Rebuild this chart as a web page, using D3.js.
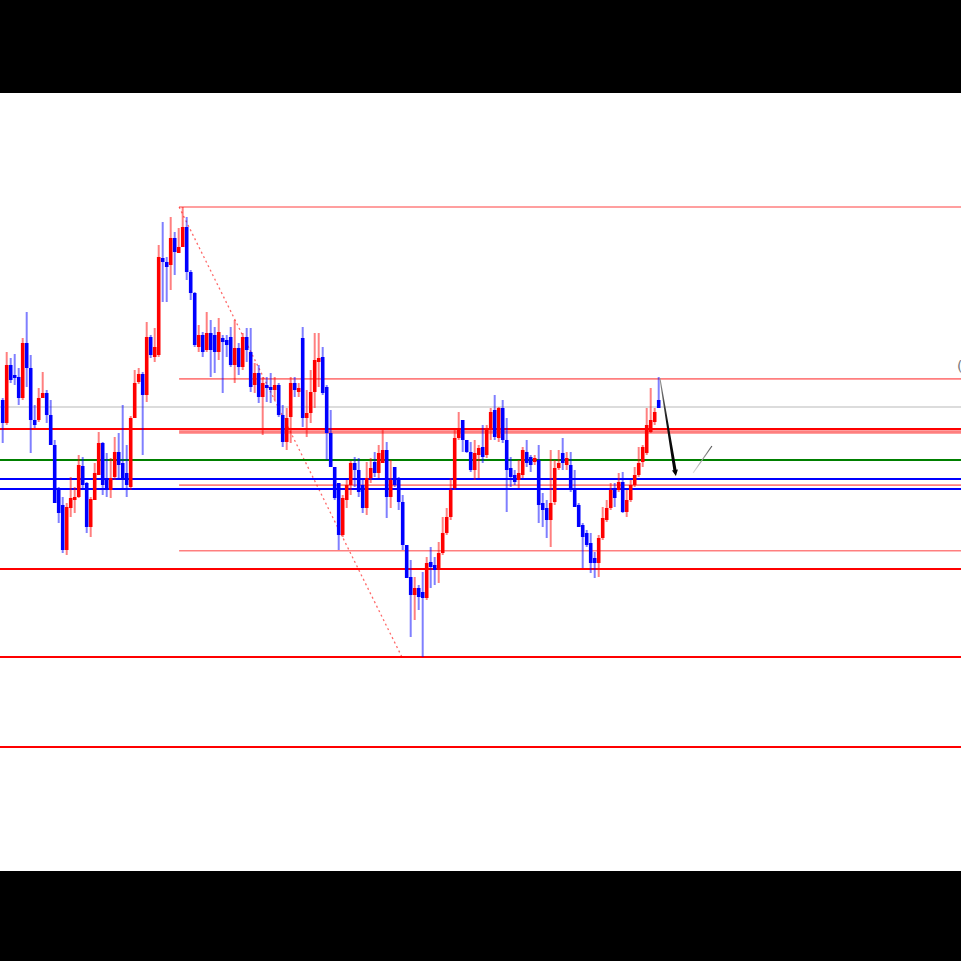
<!DOCTYPE html>
<html>
<head>
<meta charset="utf-8">
<script src="https://cdn.jsdelivr.net/npm/d3@7"></script>
<style>
html,body{margin:0;padding:0;background:#000;}
svg{display:block;}
</style>
</head>
<body>
<script>
// ---- data (price units) ----
const open = [600,577,635,625,623,602,657,632,580,580,602,607,585,555,510,495,450,492,500,503,534,517,473,500,525,557,522,510,523,548,537,527,513,582,618,626,605,663,643,645,742,738,735,762,747,753,773,728,707,653,665,650,667,665,648,662,660,663,635,652,633,663,648,615,627,603,615,613,610,615,585,558,583,617,608,662,582,587,608,638,643,613,567,533,517,465,500,515,537,530,515,492,522,538,527,537,550,503,533,520,498,455,423,405,412,408,402,438,435,430,447,467,483,512,562,580,560,548,530,545,553,545,570,590,562,592,560,532,525,520,525,548,543,538,540,497,492,480,498,532,547,535,535,510,495,475,467,457,442,437,462,480,492,510,510,518,488,500,515,525,538,547,568,578,600];
const high = [602,648,642,646,632,662,688,645,595,612,628,610,600,560,513,503,497,523,513,545,543,518,503,537,568,558,547,542,563,567,595,555,584,630,632,628,678,665,672,755,778,743,783,768,772,793,783,730,708,675,668,688,680,673,682,665,665,673,680,657,667,672,672,637,635,623,623,627,623,617,595,592,623,623,617,673,610,630,667,667,653,615,590,533,517,505,520,539,543,542,522,538,542,548,555,570,558,540,533,523,505,455,440,423,415,428,443,453,443,458,483,492,522,570,588,580,560,558,560,555,575,575,592,605,593,600,582,543,530,540,553,560,545,545,555,507,500,550,540,550,562,548,548,530,497,477,470,467,448,465,493,500,517,517,527,528,510,520,533,553,555,592,612,592,623];
const low = [557,575,617,615,595,600,613,547,572,578,602,577,555,497,477,447,445,483,487,502,512,467,463,500,525,505,503,502,520,520,512,503,510,582,616,545,598,642,638,643,698,698,710,725,747,753,720,700,653,648,643,648,623,627,640,607,643,633,617,625,630,638,608,607,597,565,598,597,600,583,553,550,557,603,603,573,563,577,592,613,605,540,533,500,450,463,492,505,513,503,487,485,517,523,522,537,482,492,513,490,450,422,363,380,390,343,400,412,415,417,445,465,480,510,560,548,547,528,520,522,537,542,560,560,558,557,488,513,515,512,522,533,528,535,477,473,462,453,495,530,530,530,508,493,473,432,453,427,422,423,460,478,490,493,508,487,483,498,513,523,533,545,567,575,592];
const close = [577,635,620,622,602,657,632,580,575,602,607,585,555,497,487,450,493,502,503,535,515,473,501,527,557,515,512,522,548,535,520,515,582,617,626,605,663,645,653,743,738,733,762,748,753,773,728,707,655,665,648,667,650,648,668,658,655,635,652,633,663,650,613,627,603,617,612,610,615,585,558,582,617,610,612,582,587,608,640,642,607,567,533,502,465,502,515,537,530,508,492,522,532,527,547,550,503,520,515,498,455,422,405,412,403,402,437,433,430,447,467,483,510,562,572,560,548,530,547,552,543,570,588,563,592,560,530,523,518,527,550,537,535,542,495,490,480,497,532,537,537,542,510,493,473,463,455,437,437,462,482,492,510,502,518,488,500,515,525,537,553,575,580,588,592];

// full-width horizontal levels
const redLevels = [571, 431, 343, 253];
const greenLevels = [540];
const blueLevels = [521, 511];
const grayLevels = [593];
// Fibonacci retracement (anchored from bar 44 high to bar 100 low)
const fibHigh = 793, fibLow = 343;
const fibRatios = [0, 0.382, 0.5, 0.618, 0.764];
const fibStartBar = 44.1, fibEndBar = 99.8;
// drawn trend arrow and small line (bar index, price)
const arrowPts = [[164.3, 622], [168.3, 524]];
const greyLinePts = [[172.6, 527], [177.3, 554]];

const W = 961, H = 961;
const svg = d3.select("body").append("svg").attr("width", W).attr("height", H);
svg.append("rect").attr("x",0).attr("y",0).attr("width",W).attr("height",H).attr("fill","#000");
svg.append("rect").attr("x",0).attr("y",93).attr("width",W).attr("height",778).attr("fill","#fff");

const x = d3.scaleLinear().domain([0, open.length - 1]).range([2.7, 658.7]);
const y = d3.scaleLinear().domain([129, 907]).range([871, 93]);

const g = svg.append("g");

function hline(p, color, w, x0) {
  g.append("line").attr("x1", x0).attr("x2", W).attr("y1", y(p)).attr("y2", y(p))
    .attr("stroke", color).attr("stroke-width", w);
}
grayLevels.forEach(p => hline(p, "#dcdcdc", 2, 0));

// fib levels
const fibX0 = x(fibStartBar);
fibRatios.forEach(r => hline(fibHigh - (fibHigh - fibLow) * r, "rgba(255,0,0,0.5)", r === 0.5 ? 3.5 : 1.6, fibX0));
g.append("line")
  .attr("x1", x(fibStartBar)).attr("y1", y(fibHigh))
  .attr("x2", x(fibEndBar)).attr("y2", y(fibLow))
  .attr("stroke", "rgba(255,40,40,0.7)").attr("stroke-width", 1.3)
  .attr("stroke-dasharray", "2,3");

redLevels.forEach(p => hline(p, "#ff0000", 2, 0));
greenLevels.forEach(p => hline(p, "#008000", 2, 0));
blueLevels.forEach(p => hline(p, "#0000ff", 2, 0));

// candles
const idx = d3.range(open.length);
const col = i => close[i] > open[i] ? "255,0,0" : "0,0,255";
g.selectAll(".wick").data(idx).join("line")
  .attr("x1", i => x(i)).attr("x2", i => x(i))
  .attr("y1", i => y(high[i])).attr("y2", i => y(low[i]))
  .attr("stroke", i => `rgba(${col(i)},0.5)`).attr("stroke-width", 2);
g.selectAll(".body").data(idx).join("rect")
  .attr("x", i => x(i) - 1.8).attr("width", 3.6)
  .attr("y", i => y(Math.max(open[i], close[i])))
  .attr("height", i => Math.max(2, Math.abs(y(open[i]) - y(close[i]))))
  .attr("fill", i => `rgb(${col(i)})`);

// arrow (tapered)
const ax0 = x(arrowPts[0][0]), ay0 = y(arrowPts[0][1]);
const ax1 = x(arrowPts[1][0]), ay1 = y(arrowPts[1][1]);
const dx = ax1 - ax0, dy = ay1 - ay0, len = Math.hypot(dx, dy);
const ux = dx/len, uy = dy/len, nx = -uy, ny = ux;
const w0 = 0.5, w1 = 1.6;
const bx = ax1 - ux*6, by = ay1 - uy*6;
const pts = [
  [ax0 + nx*w0, ay0 + ny*w0],
  [bx + nx*w1, by + ny*w1],
  [bx + nx*3, by + ny*3],
  [ax1, ay1],
  [bx - nx*3, by - ny*3],
  [bx - nx*w1, by - ny*w1],
  [ax0 - nx*w0, ay0 - ny*w0]
];
const defs = svg.append("defs");
const grad = defs.append("linearGradient").attr("id","ag")
  .attr("gradientUnits","userSpaceOnUse")
  .attr("x1",ax0).attr("y1",ay0).attr("x2",ax1).attr("y2",ay1);
grad.append("stop").attr("offset","0").attr("stop-color","#999");
grad.append("stop").attr("offset","0.45").attr("stop-color","#111");
grad.append("stop").attr("offset","1").attr("stop-color","#000");
g.append("path").attr("d", "M" + pts.map(p => p.join(",")).join("L") + "Z").attr("fill", "url(#ag)");

const grad2 = defs.append("linearGradient").attr("id","gg")
  .attr("gradientUnits","userSpaceOnUse")
  .attr("x1",x(greyLinePts[0][0])).attr("y1",y(greyLinePts[0][1]))
  .attr("x2",x(greyLinePts[1][0])).attr("y2",y(greyLinePts[1][1]));
grad2.append("stop").attr("offset","0").attr("stop-color","#e0e0e0");
grad2.append("stop").attr("offset","1").attr("stop-color","#555");
g.append("line")
  .attr("x1", x(greyLinePts[0][0])).attr("y1", y(greyLinePts[0][1]))
  .attr("x2", x(greyLinePts[1][0])).attr("y2", y(greyLinePts[1][1]))
  .attr("stroke", "url(#gg)").attr("stroke-width", 1.2);

// clipped label at right edge
svg.append("text").attr("x", 957).attr("y", y(629)).attr("font-family", "DejaVu Sans")
  .attr("font-size", 14).attr("fill", "#777").text("(");
</script>
</body>
</html>
